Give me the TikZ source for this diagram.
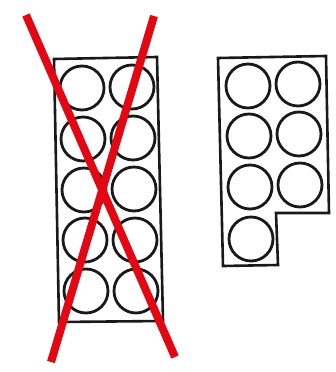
\documentclass[tikz,border=0pt]{standalone}
\usetikzlibrary{positioning}
\definecolor{crossred}{RGB}{227,6,19}
\tikzstyle{cell} = [circle, 
minimum size=44pt, 
inner sep=0pt, 
draw=black!90, 
line width=2.8pt]
\tikzstyle{tray} = [draw=black!90, line width=2.6pt, line join=miter]
\tikzstyle{cross} = [draw=crossred, line width=8pt]

\begin{document}
\begin{tikzpicture}[x=1pt, y=-1pt]
            \useasboundingbox (0,0) rectangle (335,372);
            % left tray, crossed out
            \draw [tray] (54,59) -- (157,57) -- (163,321) -- (59,322) -- cycle;
            \node (la1) [cell] at (82,88) {};
            \node (lb1) [cell] at (132,87) {};
            \node (la2) [cell] at (83,139) {};
            \node (lb2) [cell] at (133,138) {};
            \node (la3) [cell] at (84,190) {};
            \node (lb3) [cell] at (134,189) {};
            \node (la4) [cell] at (85,240) {};
            \node (lb4) [cell] at (135,240) {};
            \node (la5) [cell] at (86,291) {};
            \node (lb5) [cell] at (136,291) {};

            % right tray
            \draw [tray] (218,58) -- (326,56) -- (329,213) -- (276,213) -- (278,265) -- (223,266) -- cycle;
            \node (ra1) [cell] at (248,86) {};
            \node (rb1) [cell] at (298,84) {};
            \node (ra2) [cell] at (249,136) {};
            \node (rb2) [cell] at (299,134) {};
            \node (ra3) [cell] at (250,187) {};
            \node (rb3) [cell] at (300,185) {};
            \node (ra4) [cell] at (251,239) {};

            % the cross
            \coordinate (c1) at (26,15);
            \coordinate (c2) at (175,357);
            \coordinate (c3) at (154,16);
            \coordinate (c4) at (51,362);
            \draw [cross] (c1) -- (c2);
            \draw [cross] (c3) -- (c4);
        \end{tikzpicture}
\end{document}
